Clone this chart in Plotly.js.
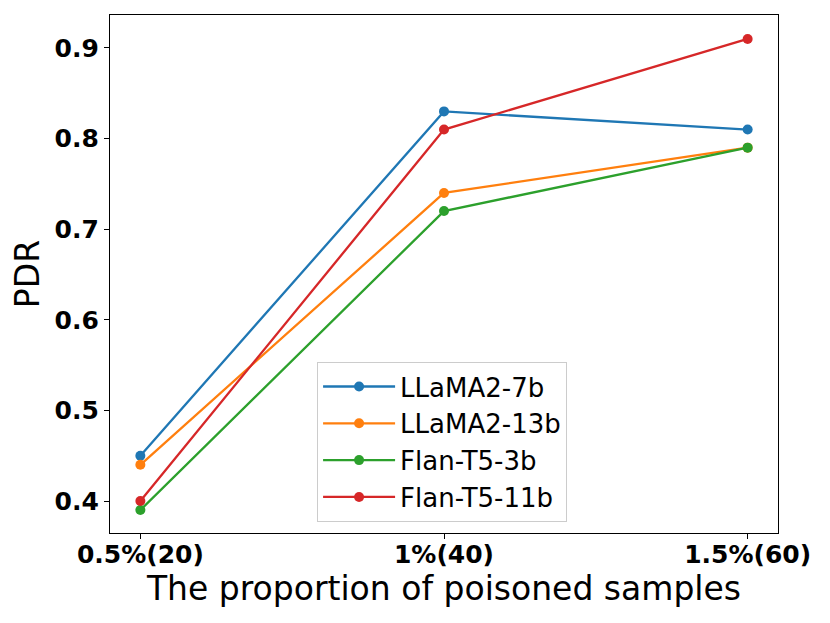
<!DOCTYPE html>
<html>
<head>
<meta charset="utf-8">
<script src="https://cdn.plot.ly/plotly-3.0.1.min.js"></script>
<style>html,body{margin:0;padding:0;background:#fff;}#chart{width:830px;height:623px;}</style>
</head>
<body>
<div id="chart"></div>
<script>
var categories = ["0.5%(20)", "1%(40)", "1.5%(60)"];
var seriesNames = ["LLaMA2-7b", "LLaMA2-13b", "Flan-T5-3b", "Flan-T5-11b"];
var llama7b = [0.45, 0.83, 0.81];
var llama13b = [0.44, 0.74, 0.79];
var flan3b = [0.39, 0.72, 0.79];
var flan11b = [0.40, 0.81, 0.91];
var yTicks = [0.4, 0.5, 0.6, 0.7, 0.8, 0.9];
var colors = ["#1f77b4", "#ff7f0e", "#2ca02c", "#d62728"];

var xIdx = categories.map(function(c, i){ return i; });
var allSeries = [llama7b, llama13b, flan3b, flan11b];
var traces = allSeries.map(function(vals, k){
  return {
    x: xIdx, y: vals, name: seriesNames[k], type: "scatter", mode: "lines+markers",
    line: {color: colors[k], width: 2.3},
    marker: {color: colors[k], size: 10}
  };
});

var layout = {
  width: 830, height: 623,
  margin: {l: 110, r: 52, t: 15, b: 90},
  paper_bgcolor: "#fff", plot_bgcolor: "#fff",
  font: {family: "DejaVu Sans", color: "#000"},
  showlegend: true,
  legend: {
    x: 0.31, y: 0.021, xanchor: "left", yanchor: "bottom",
    bordercolor: "#cccccc", borderwidth: 1, bgcolor: "rgba(255,255,255,0.8)",
    itemwidth: 72, tracegroupgap: 0,
    font: {family: "DejaVu Sans", size: 26, color: "#000"}
  },
  xaxis: {
    range: [-0.1, 2.1], tickmode: "array", tickvals: xIdx, ticktext: categories,
    showgrid: false, zeroline: false, showline: true, linecolor: "#000", linewidth: 1.2, mirror: true,
    ticks: "outside", ticklen: 5, tickcolor: "#000", ticklabelstandoff: -6,
    tickfont: {family: "DejaVu Sans", size: 25, weight: "bold", color: "#000"},
    title: {text: "The proportion of poisoned samples", font: {family: "DejaVu Sans", size: 33, color: "#000"}, standoff: 5}
  },
  yaxis: {
    range: [0.3647, 0.9364], tickmode: "array", tickvals: yTicks,
    ticktext: yTicks.map(function(v){ return v.toFixed(1); }),
    showgrid: false, zeroline: false, showline: true, linecolor: "#000", linewidth: 1.2, mirror: true,
    ticks: "outside", ticklen: 5, tickcolor: "#000",
    tickfont: {family: "DejaVu Sans", size: 25, weight: "bold", color: "#000"},
    title: {text: "PDR", font: {family: "DejaVu Sans", size: 33, color: "#000"}, standoff: 5}
  }
};

Plotly.newPlot("chart", traces, layout, {displayModeBar: false, staticPlot: true});
</script>
</body>
</html>
